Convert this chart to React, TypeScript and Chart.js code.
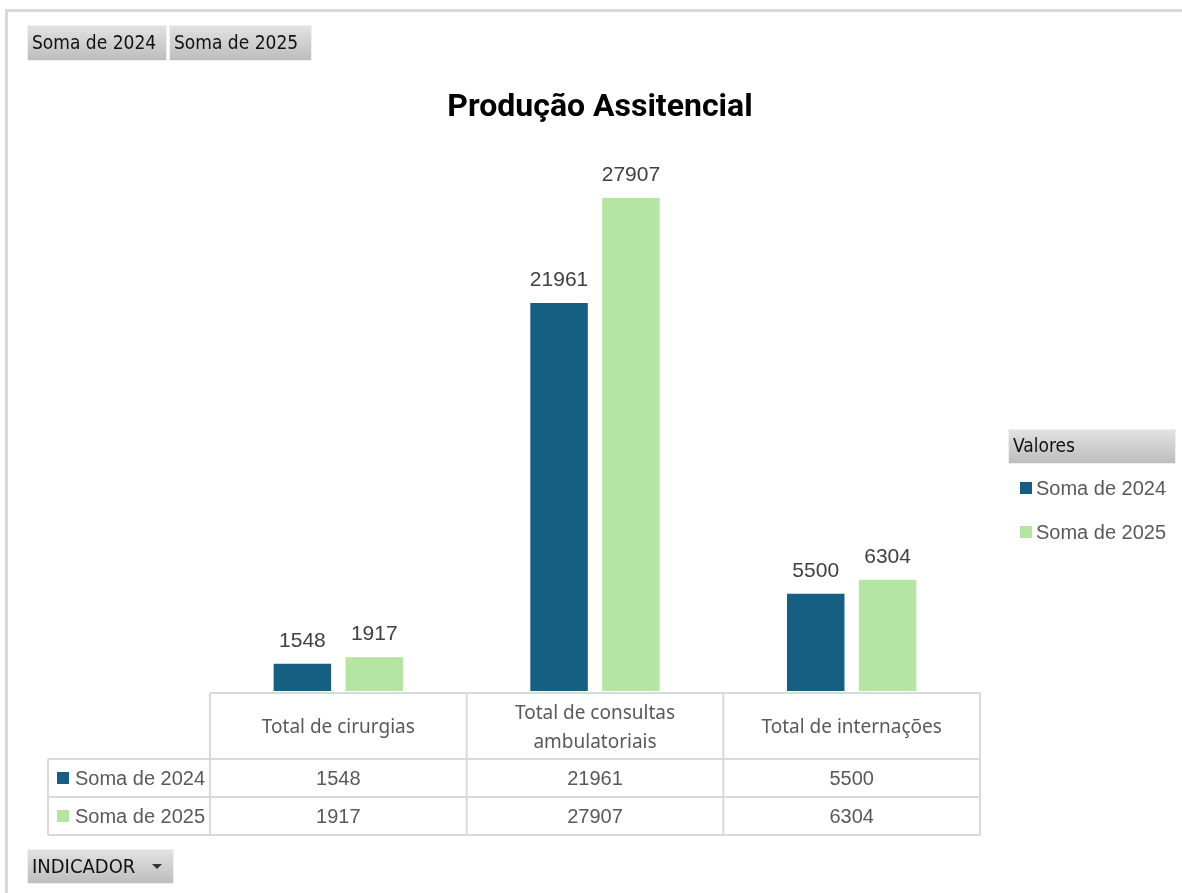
import { useEffect, useRef } from 'react';
import { Chart, registerables } from 'chart.js';

Chart.register(...registerables);

// ---- data ----
const categories = ['Total de cirurgias', 'Total de consultas ambulatoriais', 'Total de internações'];
const seriesNames = ['Soma de 2024', 'Soma de 2025'];
const values2024 = [1548, 21961, 5500];
const values2025 = [1917, 27907, 6304];
const chartTitle = 'Produção Assitencial';
const legendTitle = 'Valores';
const axisFieldLabel = 'INDICADOR';
const yMax = 30000;

const seriesColors = ['#156082', '#B4E5A2'];

const W = 1182;
const H = 893;

const NARROW = '"Liberation Sans Narrow", "DejaVu Sans Condensed", "Roboto", sans-serif';
const ARIAL = '"Liberation Sans", Arial, sans-serif';
const HEADFONT = '"Noto Sans", "Open Sans", sans-serif';

function drawButton(ctx: CanvasRenderingContext2D, x: number, y: number, w: number, h: number, text: string, arrow = false) {
  const g = ctx.createLinearGradient(0, y, 0, y + h);
  g.addColorStop(0, '#e3e3e3');
  g.addColorStop(1, '#bcbcbc');
  ctx.fillStyle = g;
  ctx.fillRect(x, y, w, h);
  ctx.strokeStyle = '#f0f0f0';
  ctx.lineWidth = 1;
  ctx.strokeRect(x + 0.5, y + 0.5, w - 1, h - 1);
  ctx.fillStyle = '#111111';
  ctx.font = (arrow ? '20px ' : '19px ') + NARROW;
  ctx.textAlign = 'left';
  ctx.textBaseline = 'middle';
  ctx.fillText(text, x + 5, y + h / 2 + 1);
  if (arrow) {
    const ax = x + w - 17;
    const ay = y + h / 2;
    ctx.fillStyle = '#333333';
    ctx.beginPath();
    ctx.moveTo(ax - 5, ay - 2.5);
    ctx.lineTo(ax + 5, ay - 2.5);
    ctx.lineTo(ax, ay + 2.5);
    ctx.closePath();
    ctx.fill();
  }
}

function wrapText(ctx: CanvasRenderingContext2D, text: string, maxW: number): string[] {
  const words = text.split(' ');
  const lines: string[] = [];
  let cur = '';
  for (const w of words) {
    const t = cur ? cur + ' ' + w : w;
    if (ctx.measureText(t).width > maxW && cur) {
      lines.push(cur);
      cur = w;
    } else cur = t;
  }
  if (cur) lines.push(cur);
  return lines;
}

const decorPlugin = {
  id: 'excelDecor',
  beforeDraw(chart: any) {
    const ctx = chart.ctx as CanvasRenderingContext2D;
    ctx.save();
    ctx.fillStyle = '#ffffff';
    ctx.fillRect(0, 0, chart.width, chart.height);
    // outer frame
    ctx.strokeStyle = '#d9d9d9';
    ctx.lineWidth = 3;
    ctx.strokeRect(6.5, 10.5, chart.width + 50, chart.height + 50);
    ctx.restore();
  },
  afterDatasetsDraw(chart: any) {
    const ctx = chart.ctx as CanvasRenderingContext2D;
    ctx.save();
    ctx.font = '21px ' + ARIAL;
    ctx.fillStyle = '#404040';
    ctx.textAlign = 'center';
    ctx.textBaseline = 'alphabetic';
    chart.data.datasets.forEach((ds: any, di: number) => {
      const meta = chart.getDatasetMeta(di);
      meta.data.forEach((bar: any, i: number) => {
        ctx.fillText(String(ds.data[i]), bar.x, bar.y - 17);
      });
    });
    ctx.restore();
  },
  afterDraw(chart: any) {
    const ctx = chart.ctx as CanvasRenderingContext2D;
    const area = chart.chartArea;
    const xs = chart.scales.x;
    const n = chart.data.labels.length;
    ctx.save();

    // title
    ctx.font = 'bold 32px "Roboto", "Liberation Sans", sans-serif';
    ctx.fillStyle = '#000000';
    ctx.textAlign = 'center';
    ctx.textBaseline = 'middle';
    ctx.fillText(chartTitle, 600, 108);

    // pivot field buttons
    drawButton(ctx, 27, 25, 140, 36, seriesNames[0]);
    drawButton(ctx, 169, 25, 143, 36, seriesNames[1]);
    drawButton(ctx, 27, 849, 147, 35, axisFieldLabel, true);
    drawButton(ctx, 1008, 429, 168, 35, legendTitle);

    // right legend
    chart.data.datasets.forEach((ds: any, di: number) => {
      const y = 488 + di * 44;
      ctx.fillStyle = ds.backgroundColor;
      ctx.fillRect(1020, y - 6, 12, 12);
      ctx.fillStyle = '#595959';
      ctx.font = '20px ' + ARIAL;
      ctx.textAlign = 'left';
      ctx.textBaseline = 'middle';
      ctx.fillText(ds.label, 1036, y + 1);
    });

    // data table
    const catW = (area.right - area.left) / n;
    const headTop = area.bottom + 2;
    const headH = 66;
    const rowH = 38;
    const nRows = chart.data.datasets.length;
    const tableLeft = 48;
    const bottom = headTop + headH + rowH * nRows;
    ctx.strokeStyle = '#d9d9d9';
    ctx.lineWidth = 2;
    ctx.beginPath();
    ctx.moveTo(area.left, headTop);
    ctx.lineTo(area.right, headTop);
    for (let r = 0; r <= nRows; r++) {
      const y = headTop + headH + r * rowH;
      ctx.moveTo(tableLeft, y);
      ctx.lineTo(area.right, y);
    }
    for (let i = 0; i <= n; i++) {
      const x = area.left + i * catW;
      ctx.moveTo(x, headTop);
      ctx.lineTo(x, bottom);
    }
    ctx.moveTo(tableLeft, headTop + headH);
    ctx.lineTo(tableLeft, bottom);
    ctx.stroke();

    // header labels
    ctx.font = '19px ' + HEADFONT;
    ctx.fillStyle = '#595959';
    ctx.textAlign = 'center';
    ctx.textBaseline = 'middle';
    (chart.data.labels as string[]).forEach((lab, i) => {
      const cx = xs.getPixelForValue(i);
      const lines = wrapText(ctx, lab, catW - 24);
      const lh = 29;
      const y0 = headTop + headH / 2 + 2 - ((lines.length - 1) * lh) / 2;
      lines.forEach((ln, k) => ctx.fillText(ln, cx, y0 + k * lh));
    });

    // rows
    chart.data.datasets.forEach((ds: any, di: number) => {
      const cy = headTop + headH + di * rowH + rowH / 2;
      ctx.fillStyle = ds.backgroundColor;
      ctx.fillRect(57, cy - 6, 12, 12);
      ctx.fillStyle = '#595959';
      ctx.font = '20px ' + ARIAL;
      ctx.textAlign = 'left';
      ctx.fillText(ds.label, 75, cy + 1);
      ctx.textAlign = 'center';
      ds.data.forEach((v: number, i: number) => {
        ctx.fillText(String(v), xs.getPixelForValue(i), cy + 1);
      });
    });

    ctx.restore();
  },
};

export default function App() {
  const ref = useRef<HTMLCanvasElement | null>(null);
  useEffect(() => {
    if (!ref.current) return;
    const chart = new Chart(ref.current, {
      type: 'bar',
      data: {
        labels: categories,
        datasets: [
          { label: seriesNames[0], data: values2024, backgroundColor: seriesColors[0], borderWidth: 0 },
          { label: seriesNames[1], data: values2025, backgroundColor: seriesColors[1], borderWidth: 0 },
        ],
      },
      options: {
        responsive: false,
        animation: false,
        devicePixelRatio: 1,
        layout: { padding: { left: 210, right: 202, top: 161, bottom: 202 } },
        datasets: { bar: { categoryPercentage: 0.56, barPercentage: 0.8 } },
        scales: {
          x: { display: false, offset: true, grid: { display: false } },
          y: { display: false, min: 0, max: yMax },
        },
        plugins: {
          legend: { display: false },
          title: { display: false },
          tooltip: { enabled: false },
        },
      },
      plugins: [decorPlugin],
    });
    return () => chart.destroy();
  }, []);
  return (
    <div style={{ position: 'absolute', left: 0, top: 0, width: W, height: H, background: '#fff' }}>
      <canvas ref={ref} width={W} height={H} style={{ display: 'block', width: W, height: H }} />
    </div>
  );
}
